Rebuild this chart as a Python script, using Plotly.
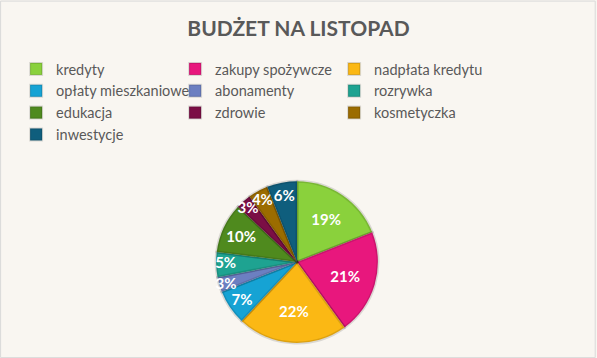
import plotly.graph_objects as go

labels = ["kredyty", "zakupy spożywcze", "nadpłata kredytu", "opłaty mieszkaniowe",
          "abonamenty", "rozrywka", "edukacja", "zdrowie", "kosmetyczka", "inwestycje"]
values = [19, 21, 22, 7, 3, 5, 10, 3, 4, 6]
colors = ["#8ad13c", "#e8177d", "#fbb814", "#16a3d4", "#6c7fc1",
          "#1ea391", "#4f8a1e", "#7b0e45", "#9b6c00", "#0f5e7d"]
title_text = "BUDŻET NA LISTOPAD"

fig = go.Figure(go.Pie(
    labels=labels, values=values, sort=False, direction="clockwise", rotation=0,
    marker=dict(colors=colors, line=dict(color="rgba(0,0,0,0.12)", width=3)),
    texttemplate="%{percent:.0%}", textposition="inside",
    insidetextorientation="horizontal",
    textfont=dict(family="Lato", size=15, color="white", weight="bold"),
    domain=dict(x=[0.362, 0.633], y=[0.042, 0.494]),
    hoverinfo="label+percent",
))

fig.update_layout(
    width=597, height=358,
    margin=dict(l=0, r=0, t=0, b=0),
    paper_bgcolor="#f9f6f1", plot_bgcolor="#f9f6f1",
    title=dict(text=title_text, x=0.5, xanchor="center", y=0.92, yanchor="middle",
               font=dict(family="Lato", size=21, color="#595959", weight="bold")),
    uniformtext=dict(minsize=15, mode="show"),
    legend=dict(orientation="h", x=0.027, xanchor="left", y=0.852, yanchor="top",
                entrywidth=114, entrywidthmode="pixels",
                font=dict(family="Lato", size=14.5, color="#595959"),
                bgcolor="rgba(0,0,0,0)", tracegroupgap=0, itemsizing="constant"),
    shapes=[dict(type="rect", xref="paper", yref="paper", x0=0.001, y0=0.001, x1=0.997, y1=0.997,
                 line=dict(color="#d9d9d9", width=1), layer="below")],
)

fig.write_html("out.html", config={"displayModeBar": False},
               post_script="document.body.style.margin='0';document.body.style.overflow='hidden';")
